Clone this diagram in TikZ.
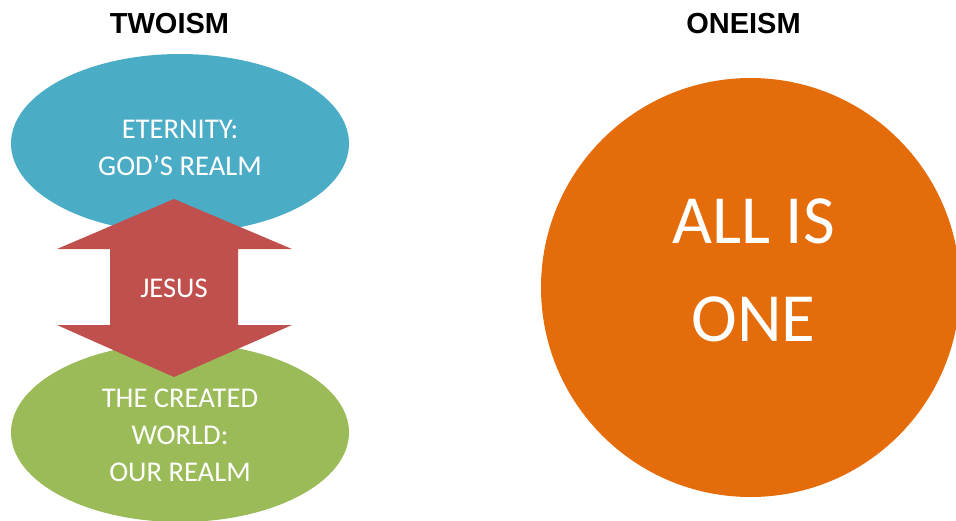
\documentclass[tikz,border=0pt]{standalone}
\usepackage{fontspec}
\setmainfont{Carlito}
\newfontfamily\headfont{Liberation Sans}
\usetikzlibrary{shapes.geometric}
\definecolor{skyblue}{HTML}{4BACC6}
\definecolor{brickred}{HTML}{C0504D}
\definecolor{olivegreen}{HTML}{9BBB59}
\definecolor{burntorange}{HTML}{E46C0A}
\tikzset{
  ttl/.style={font=\headfont\bfseries\fontsize{29}{34}\selectfont, inner sep=0pt},
  realm/.style={ellipse, draw=none, minimum width=338pt, minimum height=179pt, inner sep=0pt},
  rtxt/.style={text=white, align=center, inner sep=0pt, font=\fontsize{28.6}{37}\selectfont},
  ball/.style={circle, draw=none, fill=burntorange, minimum size=419pt, inner sep=0pt},
  btxt/.style={text=white, align=center, inner sep=0pt, font=\fontsize{69}{97.5}\selectfont}
}
\begin{document}
\begin{tikzpicture}[x=1pt, y=-1pt]
  \useasboundingbox (0,0) rectangle (956,520);
  % titles
  \node[ttl] (twoism) at (169.5,23.5) {TWOISM};
  \node[ttl] (oneism) at (743.5,23.5) {ONEISM};
  % two realms
  \node[realm, fill=skyblue] (heaven) at (180,143.5) {};
  \node[realm, fill=olivegreen] (earth) at (180,432.5) {};
  \fill[brickred] (174,199) -- (292,249) -- (238,249) -- (238,325) -- (292,325)
    -- (174,377) -- (57,325) -- (110,325) -- (110,249) -- (57,249) -- cycle;
  \node[rtxt] (heaventxt) at (180,147.5) {ETERNITY:\\GOD’S REALM};
  \node[rtxt] (jesus) at (174,288.5) {JESUS};
  \node[rtxt] (earthtxt) at (180,435) {THE CREATED\\WORLD:\\OUR REALM};
  % one
  \node[ball] (all) at (750.5,287.5) {};
  \node[btxt] (alltxt) at (753.5,270.5) {ALL IS\\ONE};
\end{tikzpicture}
\end{document}
